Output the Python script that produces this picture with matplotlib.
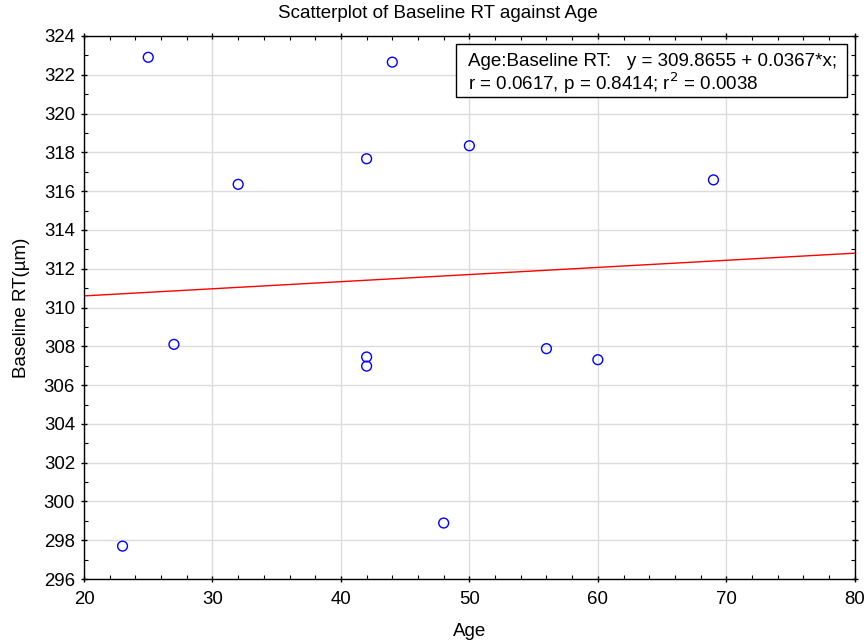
import matplotlib.pyplot as plt
from matplotlib.patches import Rectangle
from matplotlib.ticker import MultipleLocator

plt.rcParams['font.family'] = ['Liberation Sans', 'DejaVu Sans']

age = [23, 25, 27, 32, 42, 42, 42, 44, 48, 50, 56, 60, 69]
baseline_rt = [297.7, 322.9, 308.1, 316.35, 317.67, 307.45, 306.98, 322.65, 298.89, 318.34, 307.88, 307.31, 316.58]

intercept = 309.8655
slope = 0.0367
fit_x = [20, 80]
fit_y = [intercept + slope * v for v in fit_x]

fig = plt.figure(figsize=(8.66, 6.42), dpi=100)
ax = fig.add_axes([0.097, 0.098, 0.890, 0.846])

ax.plot(fit_x, fit_y, color='red', linewidth=1.0, zorder=2)
ax.scatter(age, baseline_rt, s=50, facecolors='none', edgecolors='blue', linewidths=1.0, zorder=3)

ax.set_xlim(20, 80)
ax.set_ylim(296, 324)
ax.xaxis.set_major_locator(MultipleLocator(10))
ax.xaxis.set_minor_locator(MultipleLocator(2))
ax.yaxis.set_major_locator(MultipleLocator(2))
ax.yaxis.set_minor_locator(MultipleLocator(1))
ax.tick_params(which='major', direction='inout', length=5, width=1.0, labelsize=13.4,
               top=True, right=True)
ax.tick_params(axis='x', which='major', pad=6)
ax.tick_params(axis='y', which='major', pad=4)
ax.tick_params(which='minor', direction='in', length=3, width=0.8, top=True, right=True)
ax.grid(True, which='major', color='#dcdcdc', linewidth=1.0)
ax.set_axisbelow(True)
for sp in ax.spines.values():
    sp.set_linewidth(1.0)

fig.text(0.506, 0.979, 'Scatterplot of Baseline RT against Age', fontsize=13.5,
         ha='center', va='center')
ax.set_xlabel('Age', fontsize=13.5, labelpad=11)
ax.set_ylabel('Baseline RT(\u00b5m)', fontsize=13.5, labelpad=10)

# regression summary box
ax.add_patch(Rectangle((0.4825, 0.8877), 0.5071, 0.0976, transform=ax.transAxes,
                       facecolor='white', edgecolor='black', linewidth=1.0, zorder=4))
ax.text(0.498, 0.9438, 'Age:Baseline RT:   y = 309.8655 + 0.0367*x;',
        transform=ax.transAxes, ha='left', va='baseline', fontsize=13.5, zorder=5)
ax.text(0.498, 0.9006, 'r = 0.0617, p = 0.8414; r$^2$ = 0.0038',
        transform=ax.transAxes, ha='left', va='baseline', fontsize=13.5, zorder=5)

fig.savefig('out.png', dpi=100)
